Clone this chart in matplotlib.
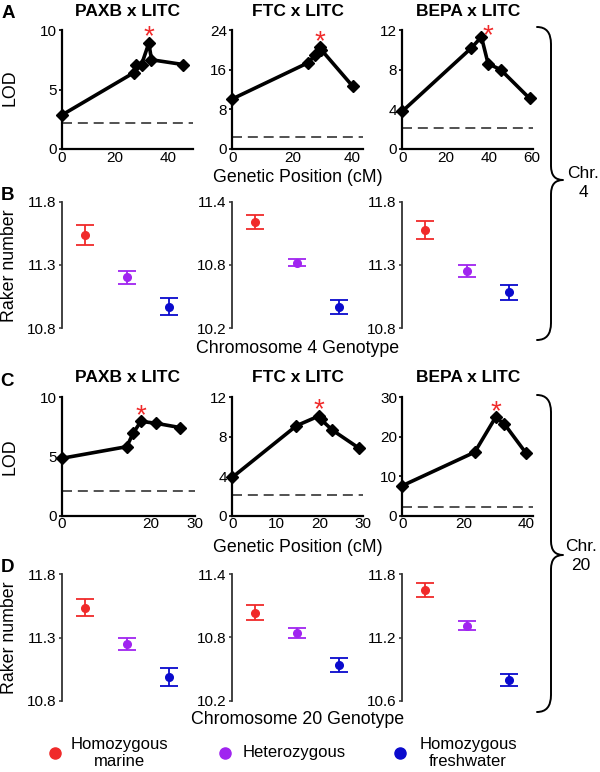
import matplotlib
matplotlib.use('Agg')
import matplotlib.pyplot as plt
import numpy as np
from matplotlib.path import Path
from matplotlib.patches import PathPatch
from matplotlib.lines import Line2D

plt.rcParams['font.family'] = ['Liberation Sans', 'DejaVu Sans']

# ---------------- data ----------------
crosses = ['PAXB x LITC', 'FTC x LITC', 'BEPA x LITC']
genotypes = ['Homozygous\nmarine', 'Heterozygous', 'Homozygous\nfreshwater']
geno_colors = ['#F02A2A', '#A024F0', '#0A0ACD']

# Chromosome 4 QTL scans
chr4_pos = [[0, 27, 28, 30, 32.75, 33.75, 45.6],
            [0, 25.3, 27.6, 29.2, 29.7, 40.1],
            [0, 32, 36.6, 39.7, 45.5, 58.9]]
chr4_lod = [[2.86, 6.4, 7.1, 7.1, 8.9, 7.5, 7.1],
            [10.1, 17.4, 18.9, 20.5, 20.0, 12.7],
            [3.8, 10.2, 11.3, 8.6, 8.0, 5.1]]
chr4_thresh = [2.2, 2.35, 2.15]
chr4_xlim = [49.4, 43.7, 60.6]
chr4_ylim = [10, 24, 12]
chr4_yticks = [[0, 5, 10], [0, 8, 16, 24], [0, 4, 8, 12]]
chr4_xticks = [[0, 20, 40], [0, 20, 40], [0, 20, 40, 60]]

# Chromosome 20 QTL scans
chr20_pos = [[0, 14.6, 16.1, 17.8, 21.3, 26.7],
             [0, 14.7, 19.8, 20.2, 22.9, 29.1],
             [0, 23.4, 30.1, 33.0, 40.0]]
chr20_lod = [[4.85, 5.83, 7.0, 7.97, 7.8, 7.44],
             [3.89, 9.12, 10.1, 9.8, 8.68, 6.82],
             [7.6, 16.1, 24.9, 23.2, 15.8]]
chr20_thresh = [2.08, 2.1, 2.3]
chr20_xlim = [30, 30, 42.3]
chr20_ylim = [10, 12, 30]
chr20_yticks = [[0, 5, 10], [0, 4, 8, 12], [0, 10, 20, 30]]
chr20_xticks = [[0, 20, 30], [0, 10, 20, 30], [0, 20, 40]]

# Raker number by genotype (mean, s.e.)
chr4_mean = [[11.536, 11.203, 10.972], [11.205, 10.823, 10.402], [11.576, 11.253, 11.083]]
chr4_err = [[0.078, 0.051, 0.064], [0.068, 0.037, 0.063], [0.074, 0.045, 0.059]]
chr4_rlim = [(10.8, 11.8), (10.2, 11.4), (10.8, 11.8)]
chr4_rticks = [[10.8, 11.3, 11.8], [10.2, 10.8, 11.4], [10.8, 11.3, 11.8]]

chr20_mean = [[11.536, 11.251, 10.990], [11.036, 10.842, 10.541], [11.647, 11.311, 10.800]]
chr20_err = [[0.066, 0.048, 0.070], [0.068, 0.045, 0.065], [0.066, 0.044, 0.055]]
chr20_rlim = [(10.8, 11.8), (10.2, 11.4), (10.6, 11.8)]
chr20_rticks = [[10.8, 11.3, 11.8], [10.2, 10.8, 11.4], [10.6, 11.2, 11.8]]

# ---------------- layout ----------------
W, H = 600, 772
fig = plt.figure(figsize=(W / 100, H / 100), dpi=100)


def fx(x):
    return x / W


def fy(y):
    return 1 - y / H


def add_ax(left, top, width, height):
    return fig.add_axes([fx(left), fy(top + height), width / W, height / H])


lefts = [62, 232.3, 402.3]
AXW = 131
TICK_FS = 11
LAB_FS = 12.8


def lod_panel(ax, pos, lod, thr, xmax, ymax, xt, yt, star_off):
    ax.plot(pos, lod, color='black', lw=2.6, marker='D', ms=6.3, mec='black', mfc='black',
            solid_joinstyle='miter', zorder=3, clip_on=False)
    ax.axhline(thr, color='#333333', lw=1.2, ls=(0, (6, 3.5)), zorder=2)
    ax.set_xlim(0, xmax)
    ax.set_ylim(0, ymax)
    ax.set_xticks(xt)
    ax.set_yticks(yt)
    for s in ['top', 'right']:
        ax.spines[s].set_visible(False)
    for s in ['left', 'bottom']:
        ax.spines[s].set_linewidth(1.6)
        ax.spines[s].set_color('black')
    ax.tick_params(axis='y', labelsize=TICK_FS, length=2, width=1.2, pad=1.6)
    ax.tick_params(axis='x', labelsize=TICK_FS, length=0, pad=1.2)
    ax.patch.set_alpha(0)
    i = int(np.argmax(lod))
    ax.annotate('*', xy=(pos[i], lod[i]), xytext=star_off, textcoords='offset points',
                ha='center', va='center', color='#F02A2A', fontsize=20, annotation_clip=False)


def raker_panel(ax, mean, err, ylim, yt):
    for k in range(3):
        ax.errorbar([k + 1], [mean[k]], yerr=[err[k]], fmt='o', color=geno_colors[k],
                    ms=5.5, capsize=6.5, elinewidth=1.3, capthick=1.3)
    ax.set_xlim(0.45, 3.57)
    ax.set_ylim(*ylim)
    ax.set_yticks(yt)
    ax.set_yticklabels([f'{v:.1f}' for v in yt])
    ax.set_xticks([])
    for s in ['top', 'right', 'bottom']:
        ax.spines[s].set_visible(False)
    ax.spines['left'].set_linewidth(1.3)
    ax.spines['left'].set_color('#333333')
    ax.tick_params(axis='y', labelsize=TICK_FS, length=2.5, width=1.1, pad=1.6, color='#333333')
    ax.patch.set_alpha(0)


star_offsets_4 = [(0, 4), (0, 4), (5, 0.5)]
star_offsets_20 = [(0, 4), (0, 4), (0, 4)]

# Row A
for j in range(3):
    ax = add_ax(lefts[j], 30, AXW, 119)
    lod_panel(ax, chr4_pos[j], chr4_lod[j], chr4_thresh[j], chr4_xlim[j], chr4_ylim[j],
              chr4_xticks[j], chr4_yticks[j], star_offsets_4[j])
    fig.text(fx(lefts[j] + AXW / 2), fy(12), crosses[j], ha='center', va='center',
             fontsize=12.5, fontweight='bold')

# Row B
for j in range(3):
    ax = add_ax(lefts[j], 201.7, AXW, 126.6)
    raker_panel(ax, chr4_mean[j], chr4_err[j], chr4_rlim[j], chr4_rticks[j])

# Row C
for j in range(3):
    wj = 133 if j == 0 else AXW
    ax = add_ax(lefts[j], 397.3, wj, 118.4)
    lod_panel(ax, chr20_pos[j], chr20_lod[j], chr20_thresh[j], chr20_xlim[j], chr20_ylim[j],
              chr20_xticks[j], chr20_yticks[j], star_offsets_20[j])
    fig.text(fx(lefts[j] + AXW / 2), fy(378), crosses[j], ha='center', va='center',
             fontsize=12.5, fontweight='bold')

# Row D
for j in range(3):
    ax = add_ax(lefts[j], 574, AXW, 127)
    raker_panel(ax, chr20_mean[j], chr20_err[j], chr20_rlim[j], chr20_rticks[j])

# Axis labels
for yc in [88, 457]:
    fig.text(fx(10), fy(yc), 'LOD', rotation=90, ha='center', va='center', fontsize=LAB_FS)
for yc in [266, 638]:
    fig.text(fx(10), fy(yc), 'Raker number', rotation=90, ha='center', va='center', fontsize=LAB_FS)
mid = lefts[1] + AXW / 2
fig.text(fx(mid), fy(178), 'Genetic Position (cM)', ha='center', va='center', fontsize=LAB_FS)
fig.text(fx(mid), fy(348), 'Chromosome 4 Genotype', ha='center', va='center', fontsize=LAB_FS)
fig.text(fx(mid), fy(547), 'Genetic Position (cM)', ha='center', va='center', fontsize=LAB_FS)
fig.text(fx(mid), fy(720), 'Chromosome 20 Genotype', ha='center', va='center', fontsize=LAB_FS)

# Panel letters
for letter, (x, y) in zip('ABCD', [(8, 14), (8, 195), (7, 381), (7, 567)]):
    fig.text(fx(x), fy(y), letter, ha='center', va='center', fontsize=13.5, fontweight='bold')


# Braces
def brace(y_top, y_tip, y_bot, x_end=537, x_mid=551, x_tip=563, r=17):
    pts = [(x_end, y_top), (x_mid, y_top), (x_mid, y_top + r),
           (x_mid, y_tip - 14), (x_mid, y_tip), (x_tip, y_tip),
           (x_mid, y_tip), (x_mid, y_tip + 14),
           (x_mid, y_bot - r), (x_mid, y_bot), (x_end, y_bot)]
    codes = [Path.MOVETO, Path.CURVE3, Path.CURVE3,
             Path.LINETO, Path.CURVE3, Path.CURVE3,
             Path.CURVE3, Path.CURVE3,
             Path.LINETO, Path.CURVE3, Path.CURVE3]
    verts = [(fx(a), fy(b)) for a, b in pts]
    p = PathPatch(Path(verts, codes), transform=fig.transFigure, fill=False,
                  edgecolor='black', lw=1.4, capstyle='round', joinstyle='round')
    fig.add_artist(p)


brace(27, 180, 340)
brace(395, 555, 712)
fig.text(fx(583), fy(183), 'Chr.\n4', ha='center', va='center', fontsize=12.5, linespacing=1.35)
fig.text(fx(581), fy(556), 'Chr.\n20', ha='center', va='center', fontsize=12.5, linespacing=1.35)

# Legend
leg_dots = [55, 225, 400]
leg_text_x = [119, 243, 468]
leg_ha = ['center', 'left', 'center']
for k in range(3):
    fig.add_artist(Line2D([fx(leg_dots[k])], [fy(753)], transform=fig.transFigure,
                          marker='o', ms=8, color=geno_colors[k], linestyle='none'))
    fig.text(fx(leg_text_x[k]), fy(753), genotypes[k], ha=leg_ha[k], va='center',
             fontsize=12, linespacing=1.2, multialignment='center')

fig.savefig('out.png', dpi=100)
